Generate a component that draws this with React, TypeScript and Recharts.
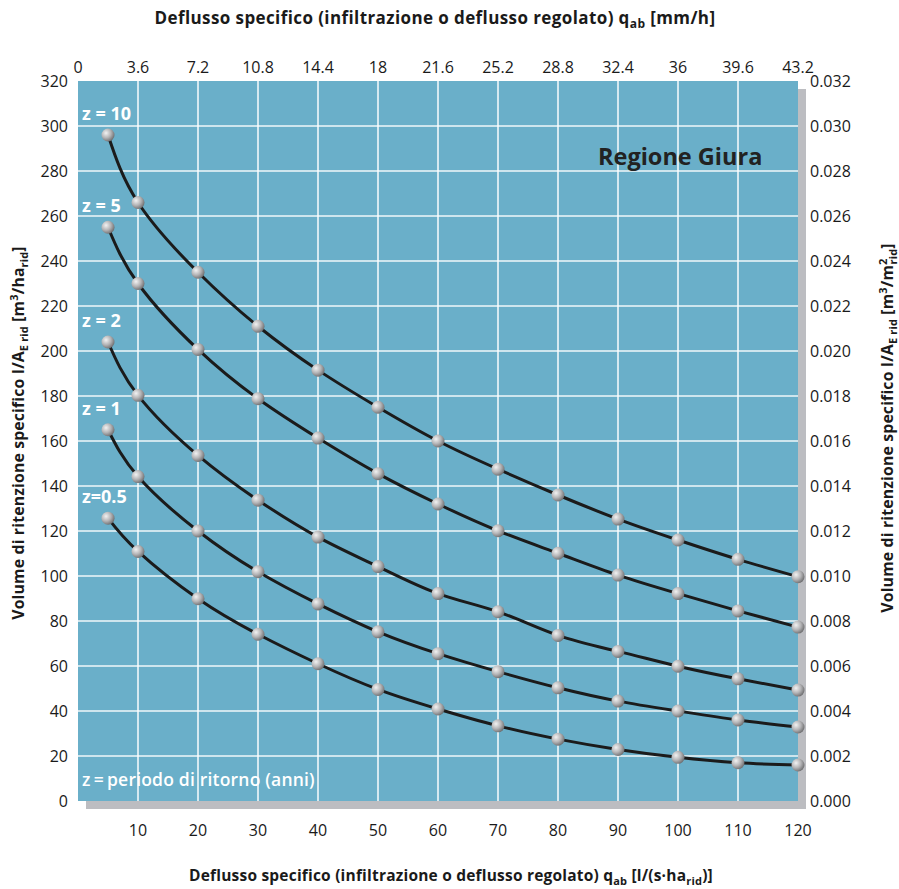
import { LineChart, Line, XAxis, YAxis, CartesianGrid } from 'recharts';

// deflusso specifico q_ab [l/(s·ha_rid)]
const qab = [5, 10, 20, 30, 40, 50, 60, 70, 80, 90, 100, 110, 120];

// volume di ritenzione [m3/ha_rid] per periodo di ritorno z
const z10 = [296, 266, 235, 211, 191.5, 175, 160, 147.5, 136, 125.3, 116, 107.4, 99.7];
const z5 = [255, 230, 200.7, 178.8, 161.3, 145.5, 132, 120.1, 110.1, 100.4, 92.2, 84.5, 77.3];
const z2 = [204, 180.3, 153.6, 133.7, 117.3, 104.2, 92.2, 84.1, 73.6, 66.5, 59.9, 54.3, 49.3];
const z1 = [165, 144.2, 120, 101.9, 87.6, 75.2, 65.5, 57.5, 50.3, 44.4, 40, 36, 32.9];
const z05 = [125.7, 110.9, 89.9, 74.1, 61, 49.6, 40.9, 33.4, 27.5, 22.9, 19.4, 17, 16];

const seriesKeys = ['z10', 'z5', 'z2', 'z1', 'z05'];
const seriesNames = ['z = 10', 'z = 5', 'z = 2', 'z = 1', 'z=0.5'];

const bottomTicks = [10, 20, 30, 40, 50, 60, 70, 80, 90, 100, 110, 120];
const topTicks = [0, 10, 20, 30, 40, 50, 60, 70, 80, 90, 100, 110, 120];
const topTickLabels = ['0', '3.6', '7.2', '10.8', '14.4', '18', '21.6', '25.2', '28.8', '32.4', '36', '39.6', '43.2'];
const leftTicks = [0, 20, 40, 60, 80, 100, 120, 140, 160, 180, 200, 220, 240, 260, 280, 300, 320];
const rightTickLabels = ['0.000', '0.002', '0.004', '0.006', '0.008', '0.010', '0.012', '0.014', '0.016',
  '0.018', '0.020', '0.022', '0.024', '0.026', '0.028', '0.030', '0.032'];
const gridX = [10, 20, 30, 40, 50, 60, 70, 80, 90, 100, 110];
const gridY = [20, 40, 60, 80, 100, 120, 140, 160, 180, 200, 220, 240, 260, 280, 300];

const data = qab.map((x, i) => ({
  x,
  z10: z10[i],
  z5: z5[i],
  z2: z2[i],
  z1: z1[i],
  z05: z05[i],
}));

const FONT = '"Open Sans", "Noto Sans", sans-serif';
const tickStyle = { fill: '#1a1a1a', fontSize: 16, fontFamily: FONT };

const SphereDot = (props: any) => {
  const { cx, cy, index } = props;
  if (cx == null || cy == null) return <g key={index} />;
  return <circle key={index} cx={cx} cy={cy} r={6.5} fill="url(#sphere)" />;
};

function seriesLabel(name: string) {
  return (p: any) => {
    if (p.index !== 0) return <g key={p.index} />;
    return (
      <text key={p.index} x={p.x - 26} y={p.y - 15} fill="#ffffff" fontSize={18} fontWeight={700} fontFamily={FONT}>
        {name}
      </text>
    );
  };
}

export default function App() {
  return (
    <div style={{ position: 'absolute', left: 0, top: 0, width: 899, height: 889, background: '#fff' }}>
      {/* ombra grigia */}
      <div style={{ position: 'absolute', left: 86, top: 89, width: 720, height: 720, background: '#bcbdc1' }} />
      <div style={{ position: 'absolute', left: 0, top: 0 }}>
        <LineChart width={899} height={889} data={data} margin={{ top: 51, right: 41, bottom: 48, left: 28 }}>
          <defs>
            <radialGradient id="sphere" cx="0.35" cy="0.35" r="0.75">
              <stop offset="0" stopColor="#f2f2f2" />
              <stop offset="0.5" stopColor="#b4b4b6" />
              <stop offset="1" stopColor="#616163" />
            </radialGradient>
          </defs>
          <CartesianGrid
            fill="#6aafc9"
            stroke="#ffffff"
            strokeWidth={1.6}
            strokeOpacity={0.9}
            verticalValues={gridX}
            horizontalValues={gridY}
          />
          <XAxis
            dataKey="x"
            type="number"
            domain={[0, 120]}
            ticks={bottomTicks}
            height={40}
            axisLine={false}
            tickLine={false}
            tickSize={0}
            tickMargin={24}
            tick={tickStyle}
          />
          <XAxis
            xAxisId="top"
            dataKey="x"
            orientation="top"
            type="number"
            domain={[0, 120]}
            ticks={topTicks}
            tickFormatter={(v: number) => topTickLabels[topTicks.indexOf(v)]}
            height={30}
            axisLine={false}
            tickLine={false}
            tickSize={0}
            tickMargin={8}
            tick={tickStyle}
          />
          <YAxis
            type="number"
            domain={[0, 320]}
            ticks={leftTicks}
            width={50}
            axisLine={false}
            tickLine={false}
            tickSize={0}
            tickMargin={10}
            tick={tickStyle}
          />
          <YAxis
            yAxisId="right"
            orientation="right"
            type="number"
            domain={[0, 320]}
            ticks={leftTicks}
            tickFormatter={(v: number) => rightTickLabels[leftTicks.indexOf(v)]}
            width={60}
            axisLine={false}
            tickLine={false}
            tickSize={0}
            tickMargin={12}
            tick={tickStyle}
          />
          {/* serie invisibile per attivare l'asse destro */}
          <Line
            yAxisId="right"
            dataKey="z10"
            stroke="none"
            dot={false}
            activeDot={false}
            isAnimationActive={false}
          />
          {seriesKeys.map((k, i) => (
            <Line
              key={k}
              dataKey={k}
              type="natural"
              stroke="#1b1b1b"
              strokeWidth={3}
              dot={<SphereDot />}
              activeDot={false}
              label={seriesLabel(seriesNames[i])}
              isAnimationActive={false}
            />
          ))}
        </LineChart>
      </div>
      <svg width={899} height={889} style={{ position: 'absolute', left: 0, top: 0, pointerEvents: 'none' }}>
        <g fontFamily={FONT} fontWeight={700} fill="#1a1a1a">
          <text x={435} y={24} textAnchor="middle" fontSize={17} letterSpacing={0.4}>
            Deflusso specifico (infiltrazione o deflusso regolato) q
            <tspan fontSize={12} dy={4}>ab</tspan>
            <tspan dy={-4}> [mm/h]</tspan>
          </text>
          <text x={451} y={881} textAnchor="middle" fontSize={15.5} letterSpacing={0.2}>
            Deflusso specifico (infiltrazione o deflusso regolato) q
            <tspan fontSize={11} dy={4}>ab</tspan>
            <tspan dy={-4}> [l/(s·ha</tspan>
            <tspan fontSize={11} dy={4}>rid</tspan>
            <tspan dy={-4}>)]</tspan>
          </text>
          <text transform="translate(24,433) rotate(-90)" textAnchor="middle" fontSize={15.8} letterSpacing={0.15}>
            Volume di ritenzione specifico I/A
            <tspan fontSize={11} dy={4}>E rid</tspan>
            <tspan dy={-4}> [m</tspan>
            <tspan fontSize={11} dy={-6}>3</tspan>
            <tspan dy={6}>/ha</tspan>
            <tspan fontSize={11} dy={4}>rid</tspan>
            <tspan dy={-4}>]</tspan>
          </text>
          <text transform="translate(893,428) rotate(-90)" textAnchor="middle" fontSize={15.8} letterSpacing={0.15}>
            Volume di ritenzione specifico I/A
            <tspan fontSize={11} dy={4}>E rid</tspan>
            <tspan dy={-4}> [m</tspan>
            <tspan fontSize={11} dy={-6}>3</tspan>
            <tspan dy={6}>/m</tspan>
            <tspan fontSize={11} dy={-6}>2</tspan>
            <tspan fontSize={11} dx={-6} dy={10}>rid</tspan>
            <tspan dy={-4}>]</tspan>
          </text>
          <text x={598} y={165} fontSize={23.5} fill="#222222">Regione Giura</text>
          <text x={82} y={786} fontSize={17.5} fill="#ffffff" fontWeight={600} letterSpacing={0.2}>z{'\u2009'}={'\u2009'}periodo di ritorno (anni)</text>
        </g>
      </svg>
    </div>
  );
}
